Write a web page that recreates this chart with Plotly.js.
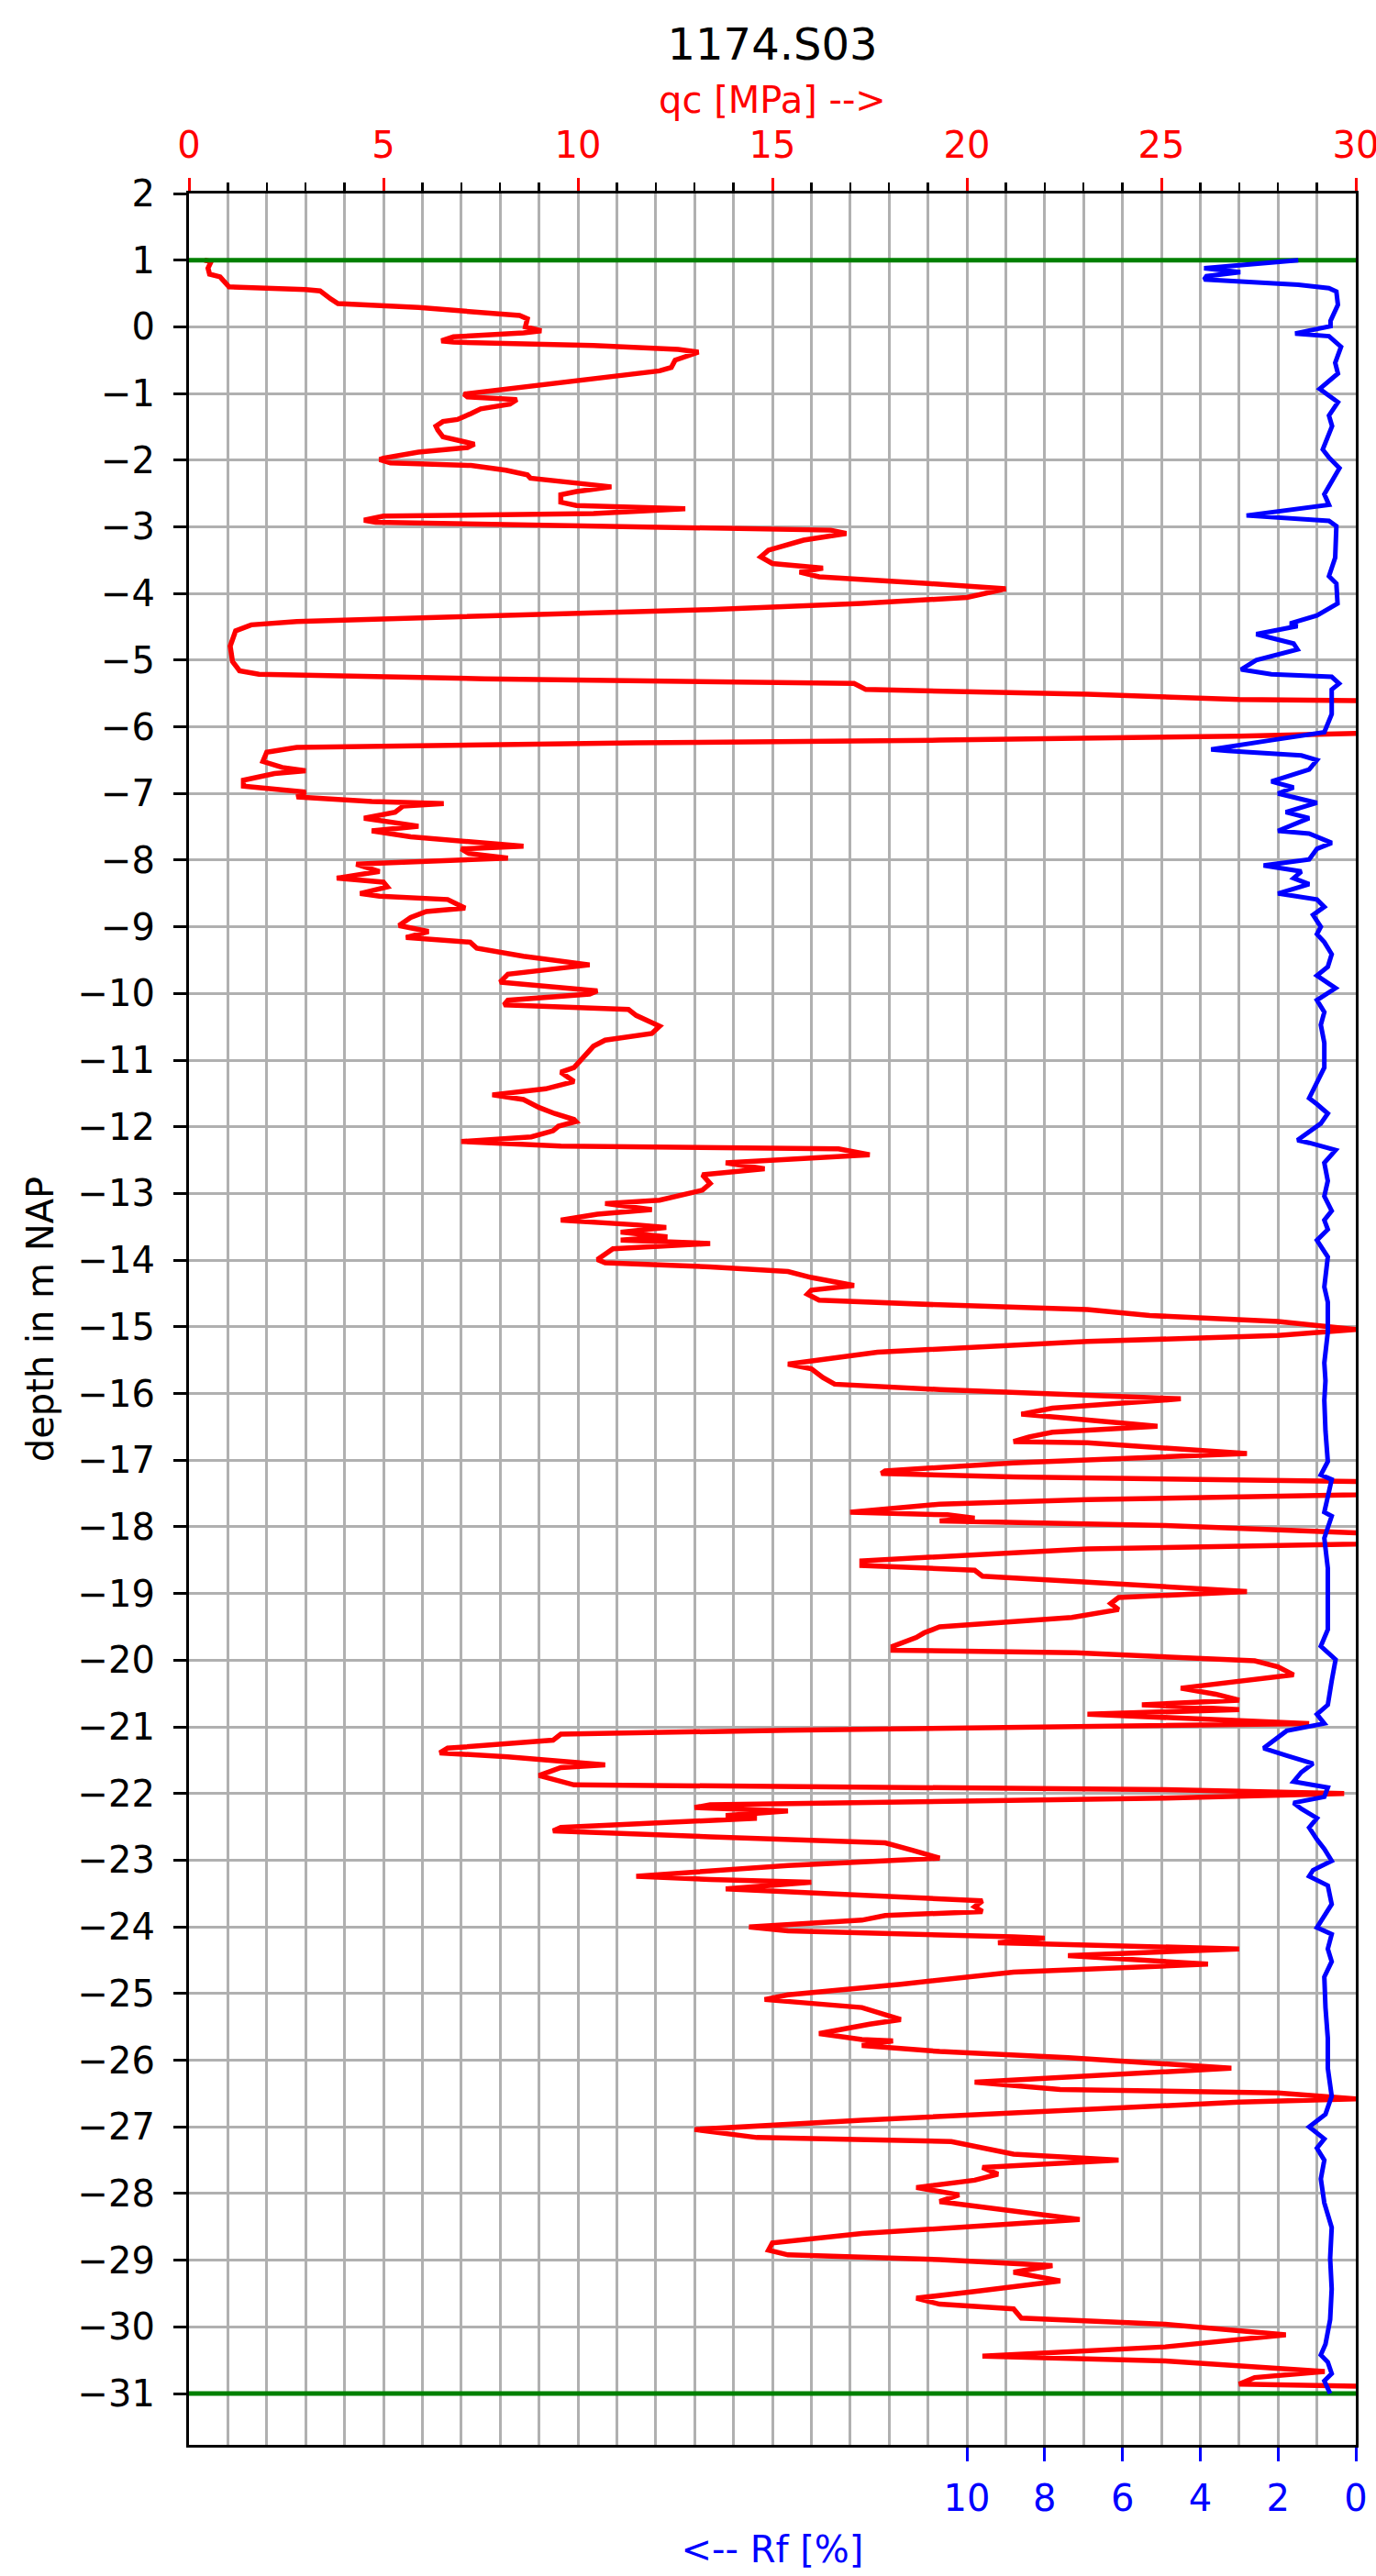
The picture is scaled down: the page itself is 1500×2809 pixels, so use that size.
<!DOCTYPE html>
<html>
<head>
<meta charset="utf-8">
<script src="https://cdn.plot.ly/plotly-3.0.1.min.js"></script>
<style>html,body{margin:0;padding:0;background:#fff;}#chart{width:1500px;height:2809px;}</style>
</head>
<body>
<div id="chart"></div>
<script>
// ---- data ----
const chartTitle = "1174.S03";
const qcDepth = [1.0,0.98,0.88,0.79,0.75,0.68,0.6,0.56,0.54,0.42,0.35,0.29,0.22,0.17,0.12,0.0,-0.06,-0.09,-0.15,-0.21,-0.23,-0.28,-0.34,-0.38,-0.5,-0.61,-0.66,-0.91,-0.98,-1.01,-1.05,-1.07,-1.09,-1.16,-1.23,-1.3,-1.39,-1.42,-1.49,-1.55,-1.65,-1.71,-1.76,-1.81,-1.88,-1.97,-1.99,-2.04,-2.08,-2.15,-2.22,-2.27,-2.34,-2.4,-2.47,-2.52,-2.63,-2.68,-2.73,-2.8,-2.84,-2.9,-2.93,-2.96,-3.0,
-3.05,-3.1,-3.2,-3.35,-3.45,-3.55,-3.62,-3.68,-3.75,-3.85,-3.93,
-4.06,-4.15,-4.24,-4.33,-4.42,-4.47,-4.56,-4.79,-5.02,-5.16,-5.21,-5.28,-5.32,-5.35,-5.44,-5.51,-5.59,-5.61,-5.85,-6.1,-6.14,-6.2,-6.24,-6.28,-6.31,-6.38,-6.52,-6.61,-6.66,-6.7,-6.8,-6.89,-6.94,-6.98,-7.05,-7.12,-7.15,-7.19,-7.28,-7.37,-7.49,-7.56,-7.65,-7.77,-7.79,-7.83,
-7.9,-7.97,-8.06,-8.17,-8.27,-8.33,-8.4,-8.5,-8.54,-8.59,-8.72,-8.77,-8.86,-8.98,-9.07,-9.16,-9.23,-9.32,-9.44,-9.57,-9.71,-9.83,-9.96,-10.01,-10.1,-10.17,-10.24,-10.33,-10.49,-10.6,-10.7,-10.79,-10.97,-11.11,-11.18,-11.32,-11.43,-11.52,-11.59,-11.71,-11.8,-11.89,
-11.92,-11.99,-12.06,-12.15,-12.22,-12.29,-12.33,-12.42,-12.54,-12.63,-12.72,-12.85,-12.95,-13.01,-13.1,-13.15,-13.24,-13.31,-13.4,-13.47,-13.51,-13.58,-13.65,-13.7,-13.75,-13.83,-13.99,-14.04,-14.1,-14.17,-14.26,-14.38,-14.45,-14.51,-14.6,-14.67,-14.74,-14.83,-14.92,-15.04,-15.13,-15.22,-15.38,-15.56,-15.63,-15.76,
-15.86,-15.94,-16.05,-16.08,-16.22,-16.31,-16.35,-16.49,-16.58,-16.65,-16.72,-16.74,-16.9,-16.95,-17.04,-17.16,-17.2,-17.25,-17.32,-17.42,-17.52,-17.59,-17.66,-17.78,-17.82,-17.87,-17.91,-17.98,-18.07,-18.16,-18.26,-18.33,-18.51,-18.58,-18.65,-18.74,-18.83,-18.97,-19.06,-19.15,-19.24,-19.36,-19.5,-19.59,-19.66,-19.79,
-19.85,-19.89,-20.01,-20.1,-20.22,-20.42,-20.51,-20.6,-20.67,-20.74,-20.81,-20.88,-20.95,-21.05,-21.11,-21.2,-21.32,-21.39,-21.45,-21.57,-21.61,-21.73,-21.82,-21.87,-21.94,-22.0,-22.07,-22.17,-22.21,-22.26,-22.33,-22.37,-22.51,-22.56,-22.65,-22.74,-22.85,-22.97,-23.08,-23.24,-23.29,-23.33,-23.43,-23.52,-23.61,-23.7,-23.77,-23.83,
-23.9,-24.0,-24.06,-24.15,-24.17,-24.24,-24.33,-24.43,-24.56,-24.68,-24.86,-25.02,-25.09,-25.21,-25.39,-25.46,-25.6,-25.69,-25.71,-25.78,-25.87,-25.96,-26.12,-26.33,-26.44,-26.49,-26.58,-26.63,-26.77,-26.9,-27.04,-27.16,-27.22,-27.41,-27.5,-27.61,-27.71,-27.8,
-27.91,-28.02,-28.12,-28.39,-28.6,-28.74,-28.85,-28.92,-28.99,-29.08,-29.18,-29.31,-29.47,-29.57,-29.66,-29.73,-29.87,-29.96,-30.12,-30.3,-30.44,-30.51,-30.67,-30.76,-30.86,-30.89];
const qcValues = [0.4,0.57,0.49,0.53,0.8,0.89,1.03,3.0,3.37,3.64,3.83,5.9,7.7,8.5,8.7,8.65,9.06,8.6,6.8,6.49,6.8,10.4,12.58,13.1,12.5,12.4,12.1,8.6,7.7,7.07,7.16,8.07,8.43,8.25,7.5,7.25,6.9,6.53,6.35,6.4,6.53,6.98,7.34,7.16,5.9,5.0,4.9,5.18,7.25,8.15,8.7,8.78,9.96,10.86,9.96,9.56,9.56,9.96,12.76,10.4,5.0,4.5,4.8,7.7,12.8,
16.5,16.9,15.8,14.9,14.7,15.0,16.3,15.7,16.2,19.0,21.0,
20.0,17.3,13.4,7.6,2.77,1.6,1.2,1.06,1.12,1.3,1.8,7.6,13.4,17.1,17.4,23.1,27.0,30.5,33.0,30.0,27.0,19.3,11.5,5.7,2.77,2.0,1.9,2.4,3.0,2.2,1.4,1.4,2.4,3.0,2.77,4.7,6.55,5.5,5.3,4.5,5.9,4.7,5.7,8.4,8.6,7.0,
7.2,8.2,4.3,4.9,3.8,5.0,5.1,4.4,4.9,6.65,7.1,6.1,5.7,5.4,6.16,5.58,7.23,7.4,8.6,10.3,8.2,8.0,10.5,10.3,8.2,8.1,11.3,11.5,12.1,11.9,10.7,10.4,10.1,9.9,9.56,9.9,9.17,7.8,8.6,9.0,9.4,9.9,
9.95,9.5,9.36,8.8,7.0,9.56,16.7,17.5,13.8,14.8,13.2,13.4,13.2,12.7,12.1,10.7,11.9,10.5,9.56,11.5,12.27,11.1,12.3,11.1,13.4,10.9,10.5,10.7,13.4,15.4,16.0,17.1,16.0,15.9,16.2,19.3,23.1,24.7,28.0,30.0,28.0,23.1,17.7,15.4,16.0,16.3,
16.6,19.3,24.1,25.5,22.2,21.4,22.2,24.9,22.2,21.6,21.2,23.1,27.2,25.1,21.2,17.9,17.8,21.2,30.0,33.0,30.0,23.1,19.3,17.0,19.5,20.2,19.3,25.1,30.0,33.0,30.0,23.1,17.3,17.3,20.2,20.4,23.1,27.2,23.9,23.7,23.9,22.7,19.3,18.9,18.7,18.1,
18.1,22.8,27.4,28.0,28.4,25.5,26.4,27.0,24.5,27.0,23.1,26.0,28.8,15.4,9.56,9.36,6.65,6.45,8.2,10.7,9.56,9.0,9.56,9.9,25.1,29.7,25.1,13.4,13.0,15.4,13.8,14.6,9.56,9.36,13.4,17.9,18.6,19.3,15.4,11.5,13.4,16.0,13.8,17.3,20.4,20.2,20.4,17.9,
17.3,14.4,15.4,21.2,22.0,20.8,27.0,22.6,26.2,21.2,18.3,15.4,14.8,17.3,18.3,17.5,16.2,17.3,18.1,17.3,19.3,22.6,26.8,20.2,22.4,28.0,30.0,27.0,21.6,17.3,13.0,14.6,19.6,21.2,23.9,20.4,20.8,20.2,
18.7,19.8,19.3,22.9,17.3,15.0,14.9,15.4,19.3,22.2,21.2,22.4,20.2,18.7,19.3,21.2,21.4,25.1,28.2,25.1,20.4,25.1,29.2,27.4,27.0,30.0];

const rfDepth = [1.0,0.88,0.82,0.76,0.71,0.63,0.58,0.53,0.33,0.09,0.01,-0.1,-0.14,-0.3,-0.54,-0.7,-0.93,-1.13,-1.33,-1.49,-1.84,-1.96,-2.12,-2.51,-2.67,-2.83,-2.91,-2.99,-3.46,-3.74,-3.85,
-4.15,-4.33,-4.45,-4.49,-4.61,-4.75,-4.84,-5.0,-5.14,-5.21,-5.25,-5.35,-5.44,-5.81,-6.08,-6.2,-6.34,-6.36,-6.43,-6.5,-6.64,-6.82,-6.91,-7.0,-7.14,-7.28,-7.37,-7.56,-7.6,-7.74,-7.83,
-7.99,-8.08,-8.17,-8.27,-8.36,-8.5,-8.59,-8.7,-8.82,-9.0,-9.11,-9.23,-9.41,-9.6,-9.73,-9.92,-10.1,-10.28,-10.47,-10.74,-11.11,-11.34,-11.57,-11.66,-11.8,
-11.95,-12.08,-12.2,-12.24,-12.35,-12.54,-12.81,-13.04,-13.26,-13.4,-13.54,-13.7,-13.95,-14.4,-14.63,-15.08,-15.54,-15.81,
-16.1,-16.56,-17.02,-17.22,-17.29,-17.78,-17.84,-18.17,-18.62,-19.08,-19.54,-19.79,
-19.99,-20.31,-20.67,-20.81,-20.95,-21.06,-21.18,-21.32,-21.43,-21.55,-21.68,-21.82,-21.91,-22.05,-22.14,-22.23,-22.37,-22.51,-22.69,-22.83,-23.01,-23.15,-23.24,-23.38,-23.66,-23.82,
-24.01,-24.11,-24.33,-24.52,-24.75,-25.21,-25.67,-26.12,-26.54,-26.81,-27.0,-27.18,-27.32,-27.5,-27.78,
-28.14,-28.51,-28.97,-29.43,-29.89,-30.26,-30.42,-30.53,-30.7,-30.81,-31.0];
const rfValues = [1.48,3.9,2.97,3.84,3.9,1.48,0.69,0.5,0.46,0.65,0.65,1.56,0.69,0.38,0.53,0.46,0.93,0.46,0.69,0.61,0.85,0.69,0.42,0.81,0.69,2.81,0.69,0.5,0.53,0.69,0.5,
0.47,1.0,1.69,1.5,2.56,1.6,1.5,2.56,2.95,2.17,0.62,0.43,0.62,0.62,0.81,2.17,3.72,3.3,1.4,1.0,1.2,2.17,1.6,2.0,1.0,1.8,1.2,2.0,1.2,0.62,1.0,
1.2,2.37,1.4,1.6,1.2,2.0,1.0,0.81,1.1,0.9,1.0,0.81,0.62,0.72,1.0,0.52,1.0,0.81,0.9,0.81,0.81,1.0,1.2,1.0,0.72,
0.9,1.2,1.5,1.2,0.52,0.81,0.72,0.81,0.62,0.81,0.72,1.0,0.72,0.81,0.72,0.72,0.81,0.78,
0.81,0.78,0.72,0.9,0.62,0.81,0.62,0.81,0.72,0.72,0.72,0.9,
0.52,0.62,0.72,1.0,0.81,1.78,2.07,2.37,1.78,1.1,1.4,1.6,0.72,0.81,1.6,1.4,1.0,1.2,1.0,0.81,0.62,1.1,1.2,0.72,0.62,0.81,
1.0,0.62,0.72,0.62,0.81,0.78,0.72,0.72,0.62,0.78,1.2,0.81,1.0,0.81,0.9,
0.81,0.62,0.66,0.62,0.66,0.78,0.9,0.72,0.62,0.81,0.66];

const boundaryDepths = [1, -31];
const qcRange = [0, 30];
const rfRange = [30, 0];
const rfTicks = [0, 2, 4, 6, 8, 10];
const depthRange = [-31.77, 2];

// ---- build ----
const FONT = "DejaVu Sans, Liberation Sans, sans-serif";
const traces = [
  {x: qcValues, y: qcDepth, xaxis: "x", yaxis: "y", type: "scatter", mode: "lines",
   line: {color: "#ff0000", width: 5.5}, hoverinfo: "skip"}
];
boundaryDepths.forEach(d => traces.push({
  x: qcRange, y: [d, d], xaxis: "x", yaxis: "y", type: "scatter", mode: "lines",
  line: {color: "#008000", width: 5}, hoverinfo: "skip"}));
traces.push({x: rfValues, y: rfDepth, xaxis: "x2", yaxis: "y", type: "scatter", mode: "lines",
  line: {color: "#0000ff", width: 5}, hoverinfo: "skip"});

const layout = {
  width: 1500, height: 2809,
  margin: {l: 206, r: 22, t: 211, b: 143, pad: 0},
  paper_bgcolor: "#ffffff", plot_bgcolor: "#ffffff",
  showlegend: false,
  font: {family: FONT, size: 40, color: "#000"},
  title: {text: chartTitle, font: {family: FONT, size: 48, color: "#000"},
          x: 0.5, xref: "paper", xanchor: "center", y: 1 - 48/2809, yref: "container", yanchor: "middle"},
  xaxis: {
    side: "top", range: qcRange, tick0: 0, dtick: 5,
    ticks: "outside", ticklen: 14, tickwidth: 3, tickcolor: "#ff0000",
    tickfont: {family: FONT, size: 40, color: "#ff0000"}, ticklabelstandoff: 6,
    ticklabeloverflow: "allow",
    showgrid: true, gridcolor: "#b0b0b0", gridwidth: 3,
    minor: {dtick: 1, ticks: "outside", ticklen: 9, tickwidth: 2.5, tickcolor: "#000",
            showgrid: true, gridcolor: "#b0b0b0", gridwidth: 3},
    showline: true, linecolor: "#000", linewidth: 3, zeroline: false,
    title: {text: "qc [MPa] -->", font: {family: FONT, size: 40, color: "#ff0000"}, standoff: 0}
  },
  xaxis2: {
    overlaying: "x", side: "bottom", range: rfRange, tickvals: rfTicks,
    ticks: "outside", ticklen: 15, tickwidth: 3, tickcolor: "#0000ff",
    tickfont: {family: FONT, size: 40, color: "#0000ff"}, ticklabelstandoff: 6,
    ticklabeloverflow: "allow",
    showgrid: false, showline: true, linecolor: "#000", linewidth: 3, zeroline: false,
    title: {text: "<-- Rf [%]", font: {family: FONT, size: 40, color: "#0000ff"}, standoff: 20}
  },
  yaxis: {
    range: depthRange, tick0: 0, dtick: 1,
    ticks: "outside", ticklen: 14, tickwidth: 3, tickcolor: "#000",
    tickfont: {family: FONT, size: 40, color: "#000"}, ticklabelstandoff: 12,
    showgrid: true, gridcolor: "#b0b0b0", gridwidth: 3,
    showline: true, mirror: true, linecolor: "#000", linewidth: 3, zeroline: false,
    title: {text: "depth in m NAP", font: {family: FONT, size: 40, color: "#000"}, standoff: 14}
  }
};

Plotly.newPlot("chart", traces, layout, {staticPlot: true, displayModeBar: false});
</script>
</body>
</html>
